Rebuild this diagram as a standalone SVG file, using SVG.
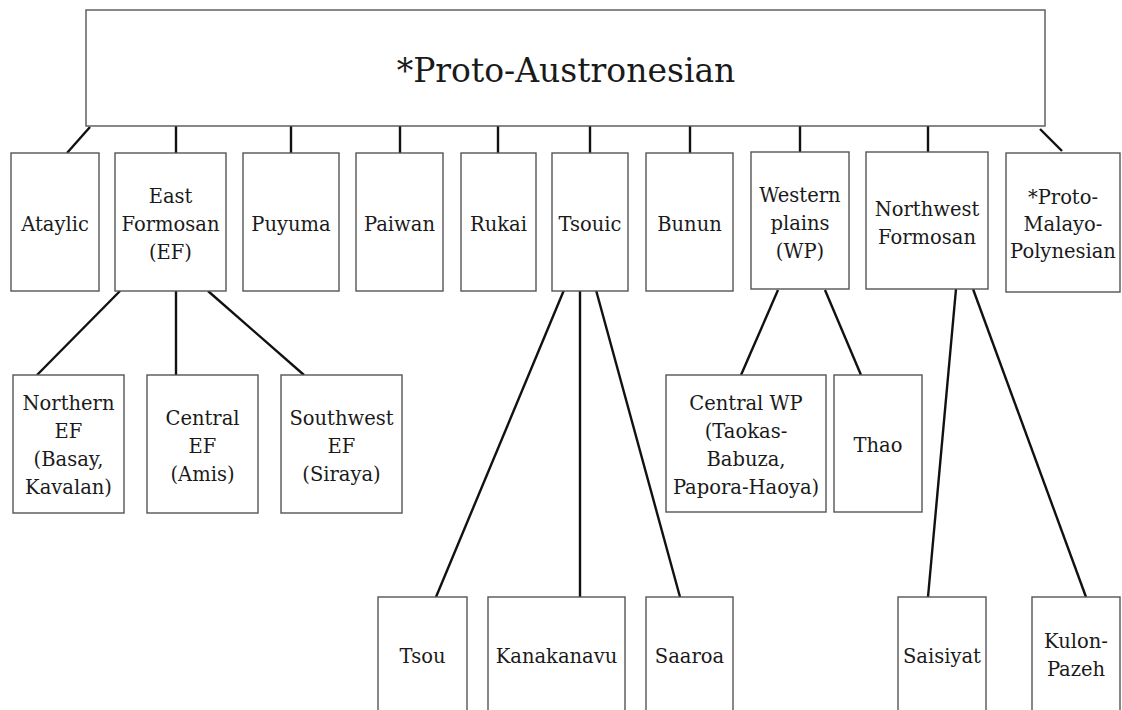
<svg xmlns="http://www.w3.org/2000/svg" width="1122" height="710" viewBox="0 0 1122 710">
<style>
.box{fill:#fff;stroke:#555;stroke-width:1.4}
.t{font-family:"DejaVu Serif","Liberation Serif",serif;font-size:19.5px;fill:#1a1a1a;text-anchor:middle}
.title{font-family:"DejaVu Serif","Liberation Serif",serif;font-size:33px;fill:#1a1a1a;text-anchor:middle}
.c{stroke:#111;stroke-width:2.4;fill:none}
</style>
<rect width="1122" height="710" fill="#fff"/>
<g id="connectors">
<line class="c" x1="90" y1="127" x2="67" y2="153"/>
<line class="c" x1="176" y1="126" x2="176" y2="153"/>
<line class="c" x1="291" y1="126" x2="291" y2="154"/>
<line class="c" x1="400" y1="126" x2="400" y2="153"/>
<line class="c" x1="498" y1="126" x2="498" y2="153"/>
<line class="c" x1="590" y1="126" x2="590" y2="153"/>
<line class="c" x1="690" y1="126" x2="690" y2="153"/>
<line class="c" x1="800" y1="126" x2="800" y2="152"/>
<line class="c" x1="928" y1="126" x2="928" y2="153"/>
<line class="c" x1="1040" y1="129" x2="1062" y2="151"/>
<line class="c" x1="120" y1="291" x2="37" y2="375"/>
<line class="c" x1="176" y1="291" x2="176" y2="375"/>
<line class="c" x1="208" y1="291" x2="304" y2="375"/>
<line class="c" x1="564" y1="290" x2="436" y2="597"/>
<line class="c" x1="580" y1="290" x2="580" y2="597"/>
<line class="c" x1="596" y1="290" x2="680" y2="597"/>
<line class="c" x1="778" y1="290" x2="741" y2="375"/>
<line class="c" x1="825" y1="290" x2="861" y2="375"/>
<line class="c" x1="956" y1="289" x2="928" y2="597"/>
<line class="c" x1="973" y1="289" x2="1086" y2="597"/>
</g>
<g id="proto-austronesian"><rect class="box" x="86" y="10" width="959" height="116"/><text class="title" x="566" y="82">*Proto-Austronesian</text></g>
<g id="ataylic"><rect class="box" x="11" y="153" width="88" height="138"/><text class="t" x="55" y="231">Ataylic</text></g>
<g id="east-formosan"><rect class="box" x="115" y="153" width="111" height="138"/><text class="t" x="170.5" y="203">East</text><text class="t" x="170.5" y="231">Formosan</text><text class="t" x="170.5" y="259">(EF)</text></g>
<g id="puyuma"><rect class="box" x="243" y="153" width="96" height="138"/><text class="t" x="291" y="231">Puyuma</text></g>
<g id="paiwan"><rect class="box" x="356" y="153" width="87" height="138"/><text class="t" x="399.5" y="231">Paiwan</text></g>
<g id="rukai"><rect class="box" x="461" y="153" width="75" height="138"/><text class="t" x="498.5" y="231">Rukai</text></g>
<g id="tsouic"><rect class="box" x="552" y="153" width="76" height="138"/><text class="t" x="590" y="231">Tsouic</text></g>
<g id="bunun"><rect class="box" x="646" y="153" width="87" height="138"/><text class="t" x="689.5" y="231">Bunun</text></g>
<g id="western-plains"><rect class="box" x="751" y="152" width="98" height="137"/><text class="t" x="800" y="202">Western</text><text class="t" x="800" y="230">plains</text><text class="t" x="800" y="258">(WP)</text></g>
<g id="northwest-formosan"><rect class="box" x="866" y="152" width="122" height="137"/><text class="t" x="927" y="216">Northwest</text><text class="t" x="927" y="244">Formosan</text></g>
<g id="proto-malayo-polynesian"><rect class="box" x="1006" y="153" width="114" height="139"/><text class="t" x="1063" y="204">*Proto-</text><text class="t" x="1063" y="231">Malayo-</text><text class="t" x="1063" y="258">Polynesian</text></g>
<g id="northern-ef"><rect class="box" x="13" y="375" width="111" height="138"/><text class="t" x="68.5" y="410">Northern</text><text class="t" x="68.5" y="438">EF</text><text class="t" x="68.5" y="466">(Basay,</text><text class="t" x="68.5" y="494">Kavalan)</text></g>
<g id="central-ef"><rect class="box" x="147" y="375" width="111" height="138"/><text class="t" x="202.5" y="425">Central</text><text class="t" x="202.5" y="453">EF</text><text class="t" x="202.5" y="481">(Amis)</text></g>
<g id="southwest-ef"><rect class="box" x="281" y="375" width="121" height="138"/><text class="t" x="341.5" y="425">Southwest</text><text class="t" x="341.5" y="453">EF</text><text class="t" x="341.5" y="481">(Siraya)</text></g>
<g id="central-wp"><rect class="box" x="666" y="375" width="160" height="137"/><text class="t" x="746" y="410">Central WP</text><text class="t" x="746" y="438">(Taokas-</text><text class="t" x="746" y="466">Babuza,</text><text class="t" x="746" y="494">Papora-Haoya)</text></g>
<g id="thao"><rect class="box" x="834" y="375" width="88" height="137"/><text class="t" x="878" y="452">Thao</text></g>
<g id="tsou"><rect class="box" x="378" y="597" width="89" height="116"/><text class="t" x="422.5" y="663">Tsou</text></g>
<g id="kanakanavu"><rect class="box" x="488" y="597" width="137" height="116"/><text class="t" x="556.5" y="663">Kanakanavu</text></g>
<g id="saaroa"><rect class="box" x="646" y="597" width="87" height="116"/><text class="t" x="689.5" y="663">Saaroa</text></g>
<g id="saisiyat"><rect class="box" x="898" y="597" width="88" height="116"/><text class="t" x="942" y="663">Saisiyat</text></g>
<g id="kulon-pazeh"><rect class="box" x="1032" y="597" width="88" height="116"/><text class="t" x="1076" y="648">Kulon-</text><text class="t" x="1076" y="676">Pazeh</text></g>
</svg>
